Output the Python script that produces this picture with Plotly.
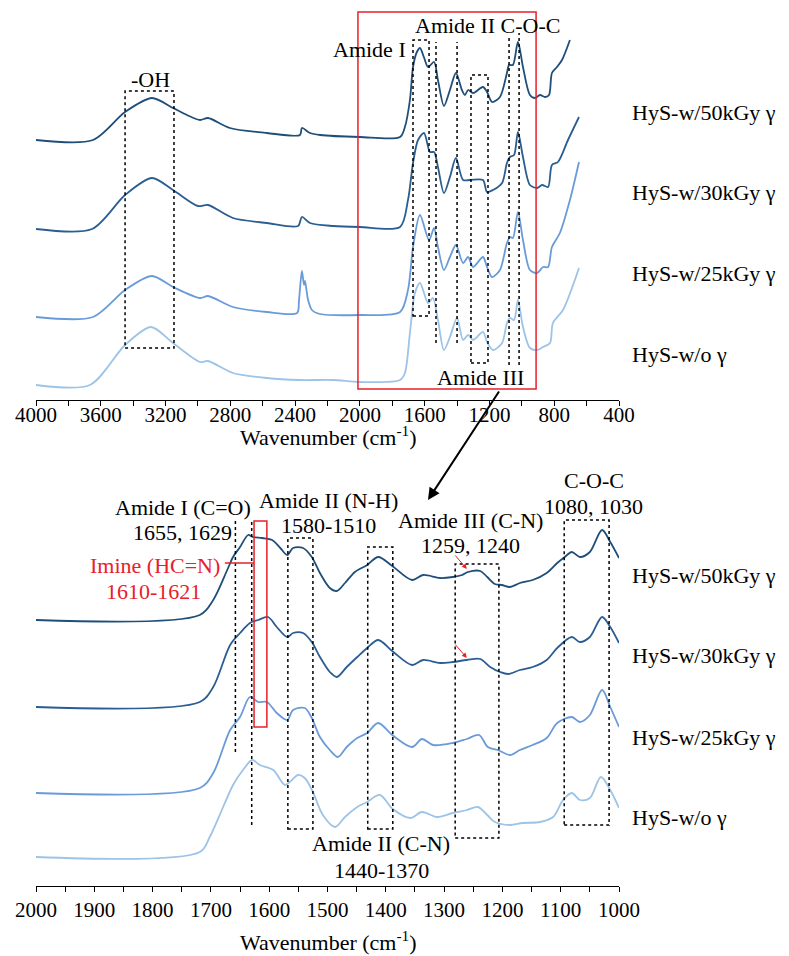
import plotly.graph_objects as go

W, H = 789, 956
FONT = "Liberation Serif, Times New Roman, serif"

# ---------------- top panel (full range) ----------------
top_50_wn = [4000, 3648, 3450, 3284, 3154, 3068, 2987, 2938, 2802, 2574, 2370, 2358, 2308, 2246, 2000, 1752,
             1722, 1691, 1672, 1648, 1629, 1605, 1579, 1542, 1518, 1481, 1444, 1407, 1370, 1351, 1332, 1301,
             1240, 1215, 1184, 1135, 1092, 1079, 1055, 1024, 993, 950, 919, 888, 857, 832, 814, 783, 752, 703]
top_50_y = [260, 260, 288, 302, 292, 285, 280, 282, 272, 267, 265, 272, 267, 265, 263, 263,
            273, 300, 333, 348, 352, 343, 333, 338, 320, 294, 310, 327, 310, 305, 310, 307,
            313, 308, 298, 303, 327, 335, 335, 358, 333, 305, 302, 305, 303, 305, 327, 333, 340, 360]

top_30_wn = [4000, 3654, 3450, 3284, 3154, 3000, 2938, 2784, 2574, 2382, 2358, 2308, 2166, 2000, 1752,
             1703, 1672, 1641, 1604, 1567, 1542, 1518, 1481, 1444, 1407, 1363, 1320, 1240, 1215, 1178,
             1122, 1092, 1073, 1048, 1024, 993, 950, 906, 875, 838, 814, 777, 715, 647]
top_30_y = [171, 171, 205, 222, 210, 194, 195, 182, 177, 174, 183, 177, 174, 173, 173,
            200, 237, 260, 267, 248, 248, 233, 207, 223, 242, 220, 220, 220, 208, 210,
            217, 237, 243, 245, 268, 243, 215, 212, 215, 213, 235, 238, 260, 283]

top_25_wn = [4000, 3648, 3450, 3284, 3154, 2987, 2938, 2784, 2574, 2388, 2376, 2358, 2345, 2339, 2320, 2296,
             2246, 2000, 1752, 1703, 1672, 1629, 1573, 1542, 1518, 1481, 1444, 1407, 1363, 1332, 1301,
             1240, 1215, 1184, 1135, 1092, 1073, 1055, 1024, 993, 950, 906, 869, 838, 814, 765, 703, 647]
top_25_y = [83, 83, 110, 124, 113, 102, 104, 93, 88, 87, 100, 129, 115, 119, 100, 90,
            86, 85, 88, 110, 153, 185, 160, 172, 153, 130, 143, 155, 137, 143, 133,
            143, 133, 123, 130, 157, 163, 162, 188, 160, 130, 127, 133, 133, 153, 167, 200, 238]

top_0_wn = [4000, 3667, 3450, 3290, 3154, 2987, 2938, 2784, 2574, 2370, 2166, 2000, 1752, 1722, 1691, 1660,
            1629, 1579, 1549, 1518, 1481, 1444, 1400, 1363, 1332, 1301, 1240, 1215, 1178, 1122, 1092,
            1073, 1048, 1024, 993, 950, 906, 869, 826, 808, 746, 647]
top_0_y = [15, 15, 55, 73, 57, 38, 39, 27, 22, 20, 20, 18, 20, 27, 67, 107,
           117, 97, 102, 80, 50, 63, 82, 60, 65, 60, 68, 58, 50, 57, 77,
           82, 80, 100, 73, 52, 50, 53, 57, 77, 90, 132]

# ---------------- bottom panel (2000-1000) ----------------
bot_50_wn = [2000, 1719, 1696, 1672, 1662, 1650, 1636, 1628, 1612, 1595, 1581, 1569, 1559, 1542, 1527, 1513,
             1496, 1484, 1470, 1453, 1432, 1413, 1389, 1355, 1336, 1307, 1285, 1269, 1259, 1238, 1226, 1213,
             1201, 1187, 1170, 1148, 1124, 1106, 1093, 1081, 1067, 1050, 1029, 1015, 1000]
bot_50_y = [266, 271, 286, 316, 329, 339, 351, 349, 348, 346, 338, 331, 338, 338, 329, 313,
            298, 295, 303, 314, 321, 329, 320, 306, 311, 308, 309, 311, 314, 315, 309, 302,
            301, 299, 303, 306, 313, 323, 329, 334, 329, 334, 356, 344, 328]

bot_30_wn = [2000, 1719, 1696, 1667, 1650, 1633, 1619, 1602, 1587, 1569, 1559, 1542, 1527, 1513, 1496, 1484,
             1467, 1449, 1432, 1413, 1389, 1355, 1336, 1307, 1285, 1261, 1238, 1221, 1204, 1190, 1170, 1148,
             1124, 1106, 1081, 1067, 1050, 1029, 1015, 1000]
bot_30_y = [179, 184, 199, 241, 253, 263, 266, 269, 259, 249, 253, 253, 244, 229, 214, 209,
            219, 229, 238, 246, 235, 221, 226, 223, 224, 226, 227, 219, 214, 212, 216, 219,
            226, 238, 249, 244, 249, 269, 259, 243]

bot_25_wn = [2000, 1719, 1696, 1667, 1650, 1633, 1619, 1604, 1587, 1569, 1559, 1539, 1527, 1513, 1496, 1482,
             1467, 1449, 1432, 1413, 1389, 1355, 1338, 1319, 1285, 1261, 1240, 1225, 1208, 1187, 1170, 1148,
             1124, 1106, 1081, 1067, 1050, 1029, 1015, 1000]
bot_25_y = [93, 98, 113, 156, 169, 189, 184, 184, 173, 166, 176, 178, 168, 149, 136, 129,
            139, 148, 153, 163, 151, 139, 147, 141, 143, 147, 151, 139, 136, 131, 136, 141,
            148, 163, 169, 164, 171, 196, 179, 159]

bot_0_wn = [2000, 1719, 1702, 1679, 1662, 1645, 1629, 1616, 1593, 1573, 1561, 1551, 1539, 1525, 1508, 1487,
            1470, 1449, 1432, 1410, 1388, 1358, 1338, 1312, 1285, 1261, 1242, 1226, 1213, 1187, 1165, 1135,
            1113, 1096, 1081, 1067, 1050, 1031, 1015, 1000]
bot_0_y = [29, 34, 49, 79, 101, 116, 126, 121, 116, 101, 106, 111, 108, 94, 71, 59,
           69, 79, 84, 91, 77, 68, 74, 69, 73, 76, 79, 71, 64, 61, 63, 64,
           69, 86, 93, 86, 88, 109, 96, 78]

labels = ["HyS-w/50kGy γ", "HyS-w/30kGy γ", "HyS-w/25kGy γ", "HyS-w/o γ"]
colors = ["#1F4E79", "#2A5D92", "#6A9BD8", "#9DC3E6"]
top_series = [(top_50_wn, top_50_y), (top_30_wn, top_30_y), (top_25_wn, top_25_y), (top_0_wn, top_0_y)]
bot_series = [(bot_50_wn, bot_50_y), (bot_30_wn, bot_30_y), (bot_25_wn, bot_25_y), (bot_0_wn, bot_0_y)]
top_label_y = [287, 207, 126, 45]
bot_label_y = [311, 231, 149, 69]

top_ticks = [4000, 3600, 3200, 2800, 2400, 2000, 1600, 1200, 800, 400]
bot_ticks = [2000, 1900, 1800, 1700, 1600, 1500, 1400, 1300, 1200, 1100, 1000]

fig = go.Figure()
for (wn, yv), c, name in zip(top_series, colors, labels):
    fig.add_trace(go.Scatter(x=wn, y=yv, mode="lines", line=dict(color=c, width=1.8, shape="spline", smoothing=0.8),
                             name=name, xaxis="x", yaxis="y", showlegend=False))
for (wn, yv), c, name in zip(bot_series, colors, labels):
    fig.add_trace(go.Scatter(x=wn, y=yv, mode="lines", line=dict(color=c, width=1.8, shape="spline", smoothing=0.9),
                             name=name, xaxis="x2", yaxis="y2", showlegend=False))

def px(v):
    return v / W

def py(v):
    return 1 - v / H

axis_common = dict(showline=True, linecolor="black", linewidth=1, ticks="outside", ticklen=5, tickcolor="black",
                   showgrid=False, zeroline=False, automargin=False,
                   tickfont=dict(family=FONT, size=21, color="black"))
fig.update_layout(
    template="none",
    width=W, height=H, margin=dict(l=0, r=0, t=0, b=0, pad=0, autoexpand=False),
    paper_bgcolor="white", plot_bgcolor="white",
    font=dict(family=FONT, size=22, color="black"),
    xaxis=dict(domain=[px(36), px(619)], range=[4000, 400], tickvals=top_ticks, anchor="y", ticklabelstandoff=-9,
               minor=dict(dtick=200, tick0=400, ticks="outside", ticklen=5, tickcolor="black"), **axis_common),
    yaxis=dict(domain=[py(400), py(5)], range=[0, 395], visible=False, anchor="x", automargin=False),
    xaxis2=dict(domain=[px(36), px(619)], range=[2000, 1000], tickvals=bot_ticks, anchor="y2",
                minor=dict(dtick=50, tick0=1000, ticks="outside", ticklen=5, tickcolor="black"), **axis_common),
    yaxis2=dict(domain=[py(886), py(470)], range=[0, 416], visible=False, anchor="x2", automargin=False),
)

dot = dict(color="black", width=1.5, dash="dot")
red = dict(color="#E8202A", width=1.5)
shapes = []
def rect(x0, x1, y0, y1, line, xr="x", yr="y"):
    shapes.append(dict(type="rect", x0=x0, x1=x1, y0=y0, y1=y1, xref=xr, yref=yr, line=line))
def vline(x, y0, y1, line, xr="x", yr="y"):
    shapes.append(dict(type="line", x0=x, x1=x, y0=y0, y1=y1, xref=xr, yref=yr, line=line))

# top panel markings
rect(3450, 3148, 52, 309, dot)
rect(2012, 912, 11, 388, red)
rect(1672, 1573, 84, 360, dot)
vline(1530, 57, 358, dot)
vline(1400, 57, 358, dot)
rect(1314, 1209, 37, 325, dot)
vline(1079, 35, 365, dot)
vline(1017, 35, 367, dot)

# bottom panel markings
vline(1658, 134, 366, dot, "x2", "y2")
vline(1630, 61, 366, dot, "x2", "y2")
rect(1626, 1604, 159, 365, red, "x2", "y2")
shapes.append(dict(type="line", x0=1676, x1=1626, y0=323, y1=323, xref="x2", yref="y2", line=red))
rect(1568, 1525, 57, 348, dot, "x2", "y2")
rect(1431, 1388, 57, 339, dot, "x2", "y2")
rect(1281, 1206, 48, 322, dot, "x2", "y2")
rect(1094, 1017, 61, 366, dot, "x2", "y2")
fig.update_layout(shapes=shapes)

ann = []
def text(x, y, s, xr="x", yr="y", color="black", xanchor="center"):
    ann.append(dict(x=x, y=y, text=s, xref=xr, yref=yr, showarrow=False, xanchor=xanchor, yanchor="middle",
                    font=dict(family=FONT, size=22, color=color)))

text(3296, 320, "-OH")
text(1938, 350, "Amide I")
text(1215, 374, "Amide II C-O-C")
text(1258, 22, "Amide III")

text(1748, 379, "Amide I (C=O)", "x2", "y2")
text(1748, 354, "1655, 1629", "x2", "y2")
text(1499, 386, "Amide II (N-H)", "x2", "y2")
text(1499, 361, "1580-1510", "x2", "y2")
text(1796, 321, "Imine (HC=N)", "x2", "y2", "#E8202A")
text(1799, 295, "1610-1621", "x2", "y2", "#E8202A")
text(1408, 43, "Amide II (C-N)", "x2", "y2")
text(1408, 16, "1440-1370", "x2", "y2")
text(1254, 366, "Amide III (C-N)", "x2", "y2")
text(1254, 341, "1259, 1240", "x2", "y2")
text(1043, 406, "C-O-C", "x2", "y2")
text(1043, 380, "1080, 1030", "x2", "y2")

for lab, yt, yb in zip(labels, top_label_y, bot_label_y):
    text(px(630), yt, lab, "paper", "y", xanchor="left")
    text(px(630), yb, lab, "paper", "y2", xanchor="left")

# axis titles
for yy in (436, 941):
    ann.append(dict(x=px(328), y=py(yy), xref="paper", yref="paper", text="Wavenumber (cm<sup>-1</sup>)",
                    showarrow=False, xanchor="center", yanchor="middle", font=dict(family=FONT, size=22, color="black")))

# zoom arrow between panels
ann.append(dict(x=px(428), y=py(500), xref="paper", yref="paper", ax=72, ay=-110, axref="pixel", ayref="pixel",
                text="", showarrow=True, arrowhead=2, arrowsize=1.2, arrowwidth=2, arrowcolor="black"))
# small red arrows
for y_from, y_to in ((332, 317), (243, 228)):
    ann.append(dict(x=1261, y=y_to, ax=1283, ay=y_from, xref="x2", yref="y2", axref="x2", ayref="y2",
                    text="", showarrow=True, arrowhead=2, arrowsize=1, arrowwidth=1, arrowcolor="#E8202A"))
fig.update_layout(annotations=ann)

fig.write_html("out.html")
